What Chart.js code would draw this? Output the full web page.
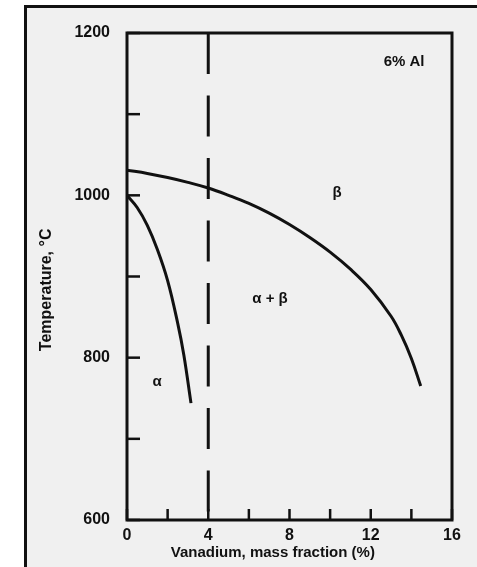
<!DOCTYPE html>
<html>
<head>
<meta charset="utf-8">
<script src="https://cdn.jsdelivr.net/npm/chart.js@4"></script>
<style>
  html, body { margin: 0; padding: 0; background: #fff; }
  #frame {
    position: absolute; left: 24px; top: 5px; right: 0; bottom: 0;
    border-left: 3px solid #111; border-top: 3px solid #111;
    background: #f0f0f0;
  }
  #wrap { position: absolute; left: 0; top: 0; width: 477px; height: 567px; }
</style>
</head>
<body>
<div id="frame"></div>
<div id="wrap"><canvas id="myChart" width="477" height="567"></canvas></div>
<script>
const ctx = document.querySelector('#myChart').getContext('2d');
const FONT = '"Liberation Sans", Arial, sans-serif';

// beta transus (upper curve)
const betaX = [0, 1, 2, 3, 4, 5, 6, 7, 8, 9, 10, 11, 12, 13, 13.5, 14, 14.46];
const betaT = [1031, 1027, 1022, 1016, 1009, 1000, 990, 978, 964, 948, 930, 909, 884, 851, 828, 799, 765];

// alpha transus (left curve)
const alphaX = [0, 0.5, 1.0, 1.5, 2.0, 2.5, 2.8, 3.15];
const alphaT = [1000, 985, 963, 933, 895, 842, 803, 744];

// 4% V reference line
const refX = [4, 4];
const refT = [1200, 600];

const xTickLabels = [0, 4, 8, 12, 16];
const yTickLabels = [600, 800, 1000, 1200];

// region labels
const noteText = ['6% Al', '\u03b2', '\u03b1 + \u03b2', '\u03b1'];
const noteX = [13.64, 10.34, 7.04, 1.48];
const noteT = [1164, 1003, 873, 770];

function pts(xs, ys) {
    return xs.map((x, i) => ({ x: x, y: ys[i] }));
}

// inward tick marks, box around plot, region labels
const phasePlugin = {
    id: 'phase',
    afterDatasetsDraw(chart) {
        const c = chart.ctx;
        const a = chart.chartArea;
        const xs = chart.scales.x;
        const ys = chart.scales.y;
        c.save();
        c.strokeStyle = '#111';
        c.lineWidth = 3;
        c.strokeRect(a.left, a.top, a.right - a.left, a.bottom - a.top);
        c.lineWidth = 2.5;
        xs.ticks.forEach(t => {
            const px = xs.getPixelForValue(t.value);
            c.beginPath();
            c.moveTo(px, a.bottom);
            c.lineTo(px, a.bottom - 11);
            c.stroke();
        });
        ys.ticks.forEach(t => {
            const py = ys.getPixelForValue(t.value);
            c.beginPath();
            c.moveTo(a.left, py);
            c.lineTo(a.left + 13, py);
            c.stroke();
        });
        c.fillStyle = '#111';
        c.textAlign = 'center';
        c.textBaseline = 'middle';
        noteText.forEach((txt, i) => {
            c.font = 'bold 15px ' + FONT;
            c.fillText(txt, xs.getPixelForValue(noteX[i]), ys.getPixelForValue(noteT[i]));
        });
        c.restore();
    }
};

const data = {
    datasets: [{
        label: 'beta',
        data: pts(betaX, betaT),
        borderColor: '#111',
        borderWidth: 3,
        tension: 0.4,
    }, {
        label: 'alpha',
        data: pts(alphaX, alphaT),
        borderColor: '#111',
        borderWidth: 3,
        tension: 0.4,
    }, {
        label: '4% V',
        data: pts(refX, refT),
        borderColor: '#111',
        borderWidth: 3,
        borderDash: [41, 21.5],
    }]
};

const config = {
    type: 'scatter',
    data: data,
    options: {
        responsive: false,
        animation: false,
        showLine: true,
        pointRadius: 0,
        layout: { padding: { left: 30, top: 33, right: 25, bottom: 0 } },
        plugins: {
            legend: { display: false },
            tooltip: { enabled: false }
        },
        scales: {
            x: {
                type: 'linear',
                min: 0,
                max: 16,
                afterFit: s => { s.height = 47; },
                border: { display: false },
                grid: { drawOnChartArea: false, drawTicks: false, display: false },
                ticks: {
                    stepSize: 2,
                    padding: 6,
                    color: '#111',
                    font: { family: FONT, size: 16, weight: 'bold' },
                    callback: v => xTickLabels.includes(v) ? v : ''
                },
                title: {
                    display: true,
                    // trailing spaces nudge the centred title left, as in the original
                    text: 'Vanadium, mass fraction (%)        ',
                    color: '#111',
                    padding: { top: 0, bottom: 5 },
                    font: { family: FONT, size: 15, weight: 'bold' }
                }
            },
            y: {
                type: 'linear',
                min: 600,
                max: 1200,
                afterFit: s => { s.width = 97; },
                border: { display: false },
                grid: { drawOnChartArea: false, drawTicks: false, display: false },
                ticks: {
                    stepSize: 100,
                    padding: 17,
                    color: '#111',
                    font: { family: FONT, size: 16, weight: 'bold' },
                    callback: v => yTickLabels.includes(v) ? v : ''
                },
                title: {
                    display: true,
                    text: 'Temperature, \u00b0C      ',
                    color: '#111',
                    padding: { top: 7, bottom: 0 },
                    font: { family: FONT, size: 16, weight: 'bold' }
                }
            }
        }
    },
    plugins: [phasePlugin]
};
const myChart = new Chart(ctx, config);
</script>
</body>
</html>
